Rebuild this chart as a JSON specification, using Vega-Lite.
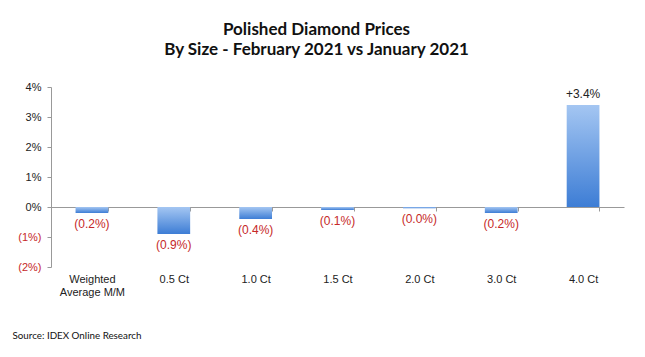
{
  "$schema": "https://vega.github.io/schema/vega-lite/v6.json",
  "autosize": {"type": "none"},
  "width": 573,
  "height": 180,
  "padding": {"left": 51, "top": 87, "right": 21, "bottom": 90},
  "background": "white",
  "title": {
    "text": ["Polished Diamond Prices", "By Size - February 2021 vs January 2021"],
    "font": "Lato",
    "fontSize": 17,
    "fontWeight": "bold",
    "lineHeight": 20,
    "color": "#111",
    "anchor": "middle",
    "dx": -21,
    "offset": 22
  },
  "data": {
    "values": [
      {"size": "Weighted|Average M/M", "change": -0.2},
      {"size": "0.5 Ct", "change": -0.9},
      {"size": "1.0 Ct", "change": -0.4},
      {"size": "1.5 Ct", "change": -0.1},
      {"size": "2.0 Ct", "change": -0.04},
      {"size": "3.0 Ct", "change": -0.2},
      {"size": "4.0 Ct", "change": 3.4}
    ]
  },
  "transform": [
    {"calculate": "datum.change < 0 ? '(' + format(-datum.change, '.1f') + '%)' : '+' + format(datum.change, '.1f') + '%'", "as": "label"}
  ],
  "encoding": {
    "x": {
      "field": "size",
      "type": "nominal",
      "sort": null,
      "scale": {"paddingInner": 0.6, "paddingOuter": 0.3},
      "axis": {
        "orient": "bottom",
        "offset": -60,
        "labelAngle": 0,
        "labelExpr": "split(datum.label, '|')",
        "labelFont": "Liberation Sans",
        "labelFontSize": 11,
        "labelColor": "#222",
        "labelBaseline": "top",
        "labelLineHeight": 13,
        "labelPadding": 62,
        "domainColor": "#999",
        "tickColor": "#999",
        "tickSize": 4,
        "tickBand": "extent",
        "title": "Source:  IDEX Online Research",
        "titleFont": "Lato",
        "titleFontSize": 9.8,
        "titleFontWeight": "normal",
        "titleColor": "#111",
        "titleAlign": "left",
        "titleBaseline": "alphabetic",
        "titleX": -39,
        "titleY": 131
      }
    },
    "y": {
      "field": "change",
      "type": "quantitative",
      "scale": {"domain": [-2, 4], "nice": false},
      "axis": {
        "values": [-2, -1, 0, 1, 2, 3, 4],
        "grid": false,
        "title": null,
        "labelExpr": "datum.value < 0 ? '(' + abs(datum.value) + '%)' : datum.value + '%'",
        "labelColor": {"expr": "datum.value < 0 ? '#c62828' : '#222'"},
        "labelFont": "Liberation Sans",
        "labelFontSize": 11,
        "labelPadding": 6,
        "domainColor": "#999",
        "tickColor": "#999",
        "tickSize": 4
      }
    }
  },
  "layer": [
    {
      "mark": {
        "type": "bar",
        "color": {
          "gradient": "linear",
          "x1": 0, "y1": 0, "x2": 0, "y2": 1,
          "stops": [
            {"offset": 0, "color": "#a4c6f2"},
            {"offset": 1, "color": "#3d7dd5"}
          ]
        }
      }
    },
    {
      "transform": [{"filter": "datum.change < 0"}],
      "mark": {"type": "text", "baseline": "top", "dy": 6, "font": "Liberation Sans", "fontSize": 12, "color": "#c62828"},
      "encoding": {"text": {"field": "label"}}
    },
    {
      "transform": [{"filter": "datum.change >= 0"}],
      "mark": {"type": "text", "baseline": "bottom", "dy": -4, "font": "Liberation Sans", "fontSize": 12, "color": "#222"},
      "encoding": {"text": {"field": "label"}}
    }
  ],
  "config": {"view": {"stroke": null}}
}
